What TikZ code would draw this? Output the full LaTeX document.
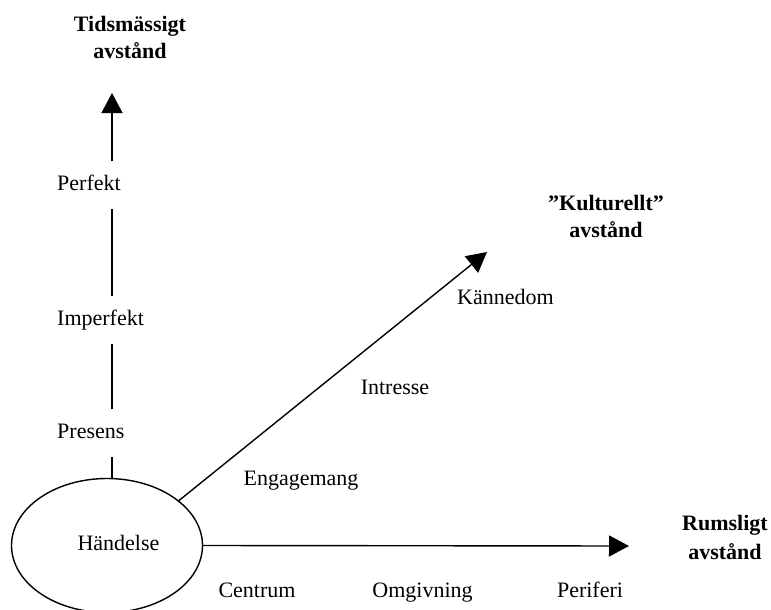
\documentclass[tikz,border=0pt]{standalone}
\usepackage{fontspec}
\setmainfont{Liberation Serif}
\usetikzlibrary{arrows.meta,shapes.geometric}
\begin{document}
\begin{tikzpicture}[x=1pt,y=-1pt,
  every node/.style={font=\fontsize{22}{27}\selectfont},
  axislbl/.style={anchor=west,inner xsep=0pt,inner ysep=13.5pt,text height=15pt,text depth=5pt},
  lbl/.style={anchor=base,inner sep=0pt},
  ttl/.style={anchor=base,inner sep=0pt,align=center,font=\fontsize{22}{27}\selectfont\bfseries},
  axis/.style={line width=1.4pt},
  arr/.style={line width=1.4pt,-{Triangle[length=20pt,width=21pt]}},
  event/.style={ellipse,draw,line width=1.4pt,minimum width=191pt,minimum height=134pt,inner sep=0pt,text height=15pt,text depth=5pt}
]
\useasboundingbox (0,0) rectangle (771,610);
% event
\node[event] (ell) at (107,545.5) {\hspace*{23pt}Händelse};
% vertical axis
\coordinate (vbase) at (112,478);
\coordinate (vtip) at (112,93);
\node[axislbl] (presens) at (57,433) {Presens};
\node[axislbl] (imperf) at (57,320) {Imperfekt};
\node[axislbl] (perf) at (57,185) {Perfekt};
\draw[axis] (vbase) -- (vbase |- presens.south);
\draw[axis] (vbase |- presens.north) -- (vbase |- imperf.south);
\draw[axis] (vbase |- imperf.north) -- (vbase |- perf.south);
\draw[arr] (vbase |- perf.north) -- (vtip);
\node[ttl] (ttid) at (130,59) {Tidsmässigt\\avstånd};
% diagonal axis
\coordinate (dtip) at (487,252);
\draw[arr] (ell.32) -- (dtip);
\node[lbl] (eng) at (301,485) {Engagemang};
\node[lbl] (intr) at (395,394) {Intresse};
\node[lbl] (kann) at (505.5,304) {Kännedom};
\node[ttl] (tkul) at (606,237) {”Kulturellt”\\avstånd};
% horizontal axis
\coordinate (htip) at (629,546);
\draw[arr] (ell.east) -- (htip);
\node[lbl] (cent) at (257,597) {Centrum};
\node[lbl] (omg) at (422.5,597) {Omgivning};
\node[lbl] (peri) at (590,597) {Periferi};
\node[ttl,font=\fontsize{22}{28.5}\selectfont\bfseries] (trum) at (725,559) {Rumsligt\\avstånd};
\end{tikzpicture}
\end{document}
